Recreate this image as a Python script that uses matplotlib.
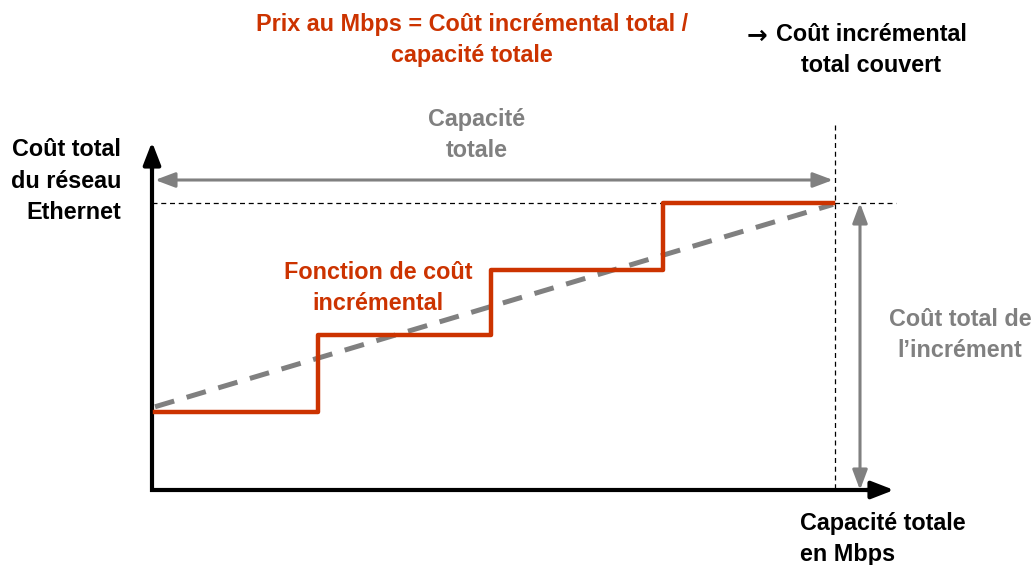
import matplotlib
matplotlib.use("Agg")
import matplotlib.pyplot as plt

# Step cost function (capacity in increments, cost in arbitrary units)
capacity_steps = [0, 0.96, 1.98, 3.0, 4.0]
cost_levels = [1.09, 2.16, 3.07, 4.0, 4.0]

# Average cost line (dashed)
avg_capacity = [0, 4.0]
avg_cost = [1.16, 3.98]

ORANGE = '#CC3300'
GRAY = '#808080'
FONT = ['Liberation Sans', 'DejaVu Sans']

W, H = 1034, 565
fig = plt.figure(figsize=(W / 100, H / 100), dpi=100)

# overlay in pixel coordinates for the diagram decorations
ov = fig.add_axes([0, 0, 1, 1])
ov.set_xlim(0, W)
ov.set_ylim(H, 0)
ov.axis('off')

# data axes: x 0..4 -> px 155..833, y 0..4 -> px 490..203
x0, x1, y0, y1 = 155, 833, 490, 203
ax = fig.add_axes([x0 / W, (H - y0) / H, (x1 - x0) / W, (y0 - y1) / H])
ax.set_xlim(0, 4)
ax.set_ylim(0, 4)
ax.axis('off')
ax.patch.set_alpha(0)

ax.plot(avg_capacity, avg_cost, color=GRAY, lw=3.6, dashes=(4, 2.6),
        solid_capstyle='butt', clip_on=False, zorder=2)
ax.plot(capacity_steps, cost_levels, drawstyle='steps-post', color=ORANGE,
        lw=3.2, clip_on=False, zorder=3)

# axes (thick black lines with arrow heads)
ov.plot([152, 152], [492, 155], color='black', lw=3, solid_capstyle='butt')
ov.plot([150, 880], [490, 490], color='black', lw=3, solid_capstyle='butt')
ax_style = '-|>,head_length=0.9,head_width=0.35'
ov.annotate('', xy=(152, 142), xytext=(152, 170),
            arrowprops=dict(arrowstyle=ax_style, lw=3, color='black',
                            mutation_scale=15, shrinkA=0, shrinkB=0))
ov.annotate('', xy=(894, 490), xytext=(866, 490),
            arrowprops=dict(arrowstyle=ax_style, lw=3, color='black',
                            mutation_scale=15, shrinkA=0, shrinkB=0))

# dotted guides
ov.plot([152, 896], [203, 203], color='black', lw=0.9, ls=(0, (4, 3)))
ov.plot([835, 835], [125, 490], color='black', lw=0.9, ls=(0, (4, 3)))

# gray dimension arrows
g_style = '<|-|>,head_length=0.8,head_width=0.3'
ov.annotate('', xy=(833, 180), xytext=(155, 180),
            arrowprops=dict(arrowstyle=g_style, lw=2.2, color=GRAY,
                            mutation_scale=15, shrinkA=0, shrinkB=0))
ov.annotate('', xy=(860, 203), xytext=(860, 490),
            arrowprops=dict(arrowstyle=g_style, lw=2.2, color=GRAY,
                            mutation_scale=15, shrinkA=0, shrinkB=0))

fs = 16.8
kw = dict(family=FONT, fontweight='bold', fontsize=fs, linespacing=1.45)
ov.text(472, 40, 'Prix au Mbps = Coût incrémental total /\ncapacité totale',
        color=ORANGE, ha='center', va='center', **kw)
ov.text(757, 36, '\u2192', color='black', ha='center', va='center',
        family='DejaVu Sans', fontweight='bold', fontsize=fs + 1)
ov.text(871, 50, 'Coût incrémental\ntotal couvert', color='black',
        ha='center', va='center', **kw)
ov.text(477, 135, 'Capacité\ntotale', color=GRAY, ha='center', va='center', **kw)
ov.text(121, 181, 'Coût total\ndu réseau\nEthernet', color='black',
        ha='right', va='center', **kw)
ov.text(378, 288, 'Fonction de coût\nincrémental', color=ORANGE,
        ha='center', va='center', **kw)
ov.text(960, 335, 'Coût total de\nl\u2019incrément', color=GRAY,
        ha='center', va='center', clip_on=False, **kw)
ov.text(800, 539, 'Capacité totale\nen Mbps', color='black',
        ha='left', va='center', **kw)

fig.savefig('out.png', dpi=100)
